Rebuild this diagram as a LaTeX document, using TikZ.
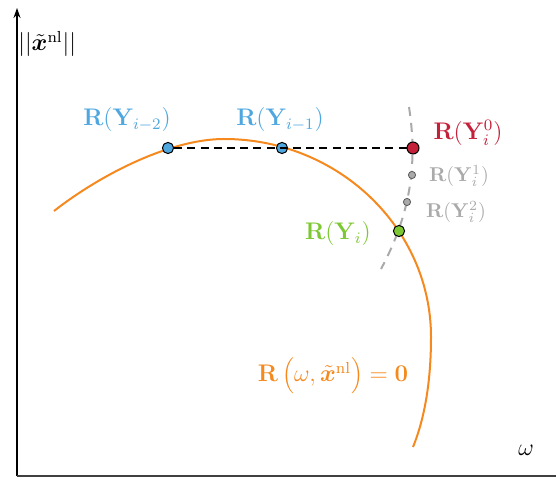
\documentclass[tikz,border=0pt]{standalone}
\usepackage{bm}
\usetikzlibrary{arrows.meta}

\definecolor{rblue}{HTML}{4FA7E0}
\definecolor{rred}{HTML}{C4203A}
\definecolor{rgreen}{HTML}{7DC832}
\definecolor{rorange}{HTML}{F5891E}
\definecolor{rgray}{HTML}{AAAAAA}

\begin{document}
\begin{tikzpicture}[
  x=0.5pt, y=-0.5pt,
  dot/.style={circle, draw=black, line width=0.5pt, inner sep=0pt, minimum size=5.6pt},
  sdot/.style={circle, draw=black!65, fill=rgray, line width=0.4pt, inner sep=0pt, minimum size=3.6pt},
  lbl/.style={font=\large, inner sep=0pt},
  slbl/.style={font=\normalsize, inner sep=0pt, text=rgray},
  arr/.style={-{Stealth[length=5pt, width=3.5pt]}},
]
  \useasboundingbox (0,0) rectangle (556,485);

  % axes
  \coordinate (o) at (17,476);
  \coordinate (ytop) at (17,8);
  \coordinate (xend) at (556,476);
  \draw[arr, line width=0.6pt] (o) -- (ytop);
  \draw[line width=0.8pt, black!75] (o) -- (xend);
  \node[lbl, anchor=west] (ylab) at (18,44) {$||\tilde{\bm x}^{\mathrm{nl}}||$};
  \node[lbl] (xlab) at (526,450) {$\omega$};

  % points
  \coordinate (p2) at (168,148);
  \coordinate (p1) at (282,148);
  \coordinate (p0) at (413,148);
  \coordinate (q1) at (412,175);
  \coordinate (q2) at (407,202);
  \coordinate (pi) at (399,231);
  \coordinate (rtop) at (224,139);
  \coordinate (rside) at (431,337);
  \coordinate (gtop) at (409,107);
  \coordinate (gbot) at (381,269);

  % residual curve
  \draw[rorange, line width=1pt] (54,211) .. controls (100,175) and (170,139) .. (rtop)
    .. controls (338,139) and (431,228) .. (rside)
    .. controls (431,390) and (422,425) .. (413,447);
  % correction path
  \draw[rgray, line width=1pt, dash pattern=on 4.5pt off 3.5pt] (gtop) .. controls (418,165) and (410,215) .. (gbot);

  \node[dot, fill=rblue] (d2) at (p2) {};
  \node[dot, fill=rblue] (d1) at (p1) {};
  \node[dot, fill=rred, minimum size=6pt] (d0) at (p0) {};
  \node[sdot] (e1) at (q1) {};
  \node[sdot] (e2) at (q2) {};
  \node[dot, fill=rgreen] (di) at (pi) {};
  \draw[line width=1pt, dash pattern=on 4pt off 2.6pt] (d2) -- (d0);

  % labels
  \node[lbl, text=rblue] (l2) at (127,120) {$\mathbf{R}(\mathbf{Y}_{i-2})$};
  \node[lbl, text=rblue] (l1) at (280,120) {$\mathbf{R}(\mathbf{Y}_{i-1})$};
  \node[lbl, text=rred] (l0) at (468,133) {$\mathbf{R}(\mathbf{Y}_i^0)$};
  \node[slbl] (m1) at (459,176) {$\mathbf{R}(\mathbf{Y}_i^1)$};
  \node[slbl] (m2) at (456,212) {$\mathbf{R}(\mathbf{Y}_i^2)$};
  \node[lbl, text=rgreen] (li) at (338,234) {$\mathbf{R}(\mathbf{Y}_i)$};
  \node[lbl, text=rorange] (lr) at (333,376) {$\mathbf{R}\left(\omega,\tilde{\bm x}^{\mathrm{nl}}\right)=\mathbf{0}$};
\end{tikzpicture}
\end{document}
